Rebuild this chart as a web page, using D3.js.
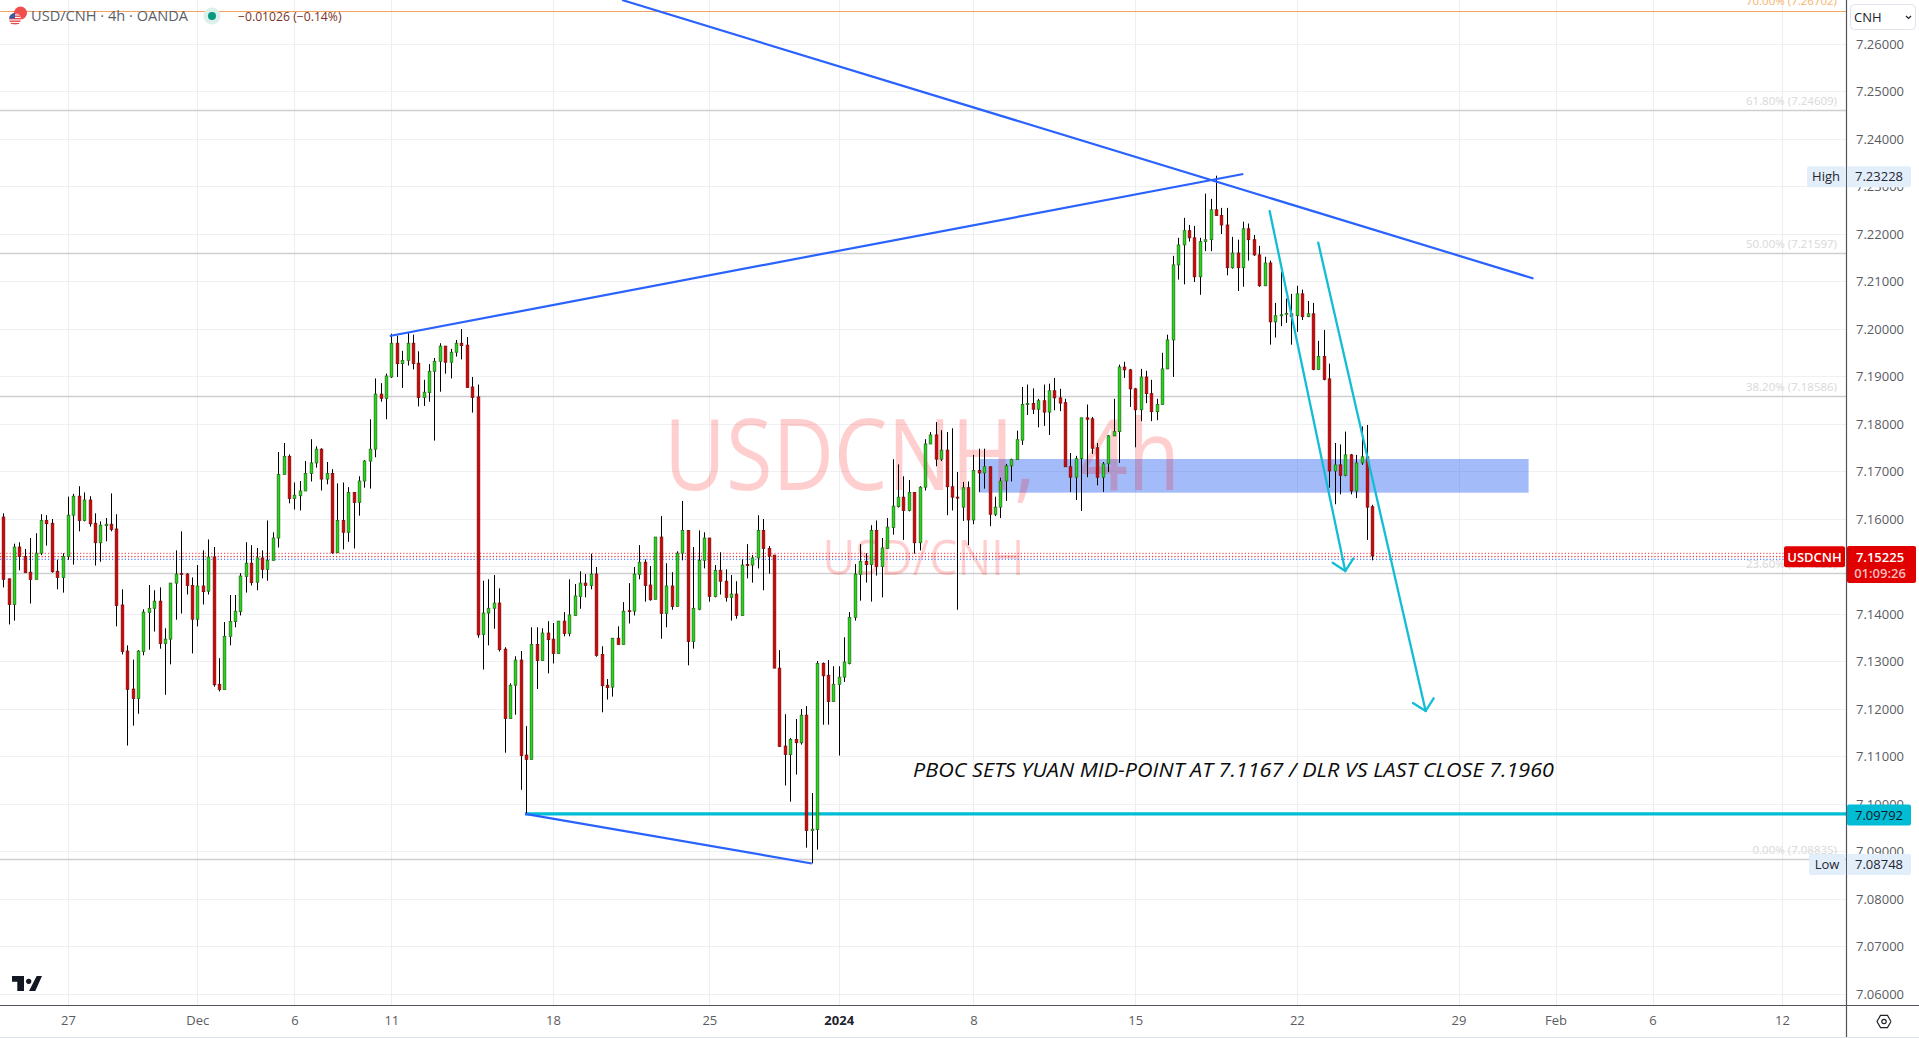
<!DOCTYPE html>
<html><head><meta charset="utf-8">
<script src="https://cdnjs.cloudflare.com/ajax/libs/d3/7.8.5/d3.min.js"></script>
<style>html,body{margin:0;padding:0;background:#fff;overflow:hidden}svg{display:block;font-family:"Open Sans",sans-serif}</style>
</head><body><svg id="c" width="1919" height="1038"></svg>
<script>
const opens=[7.1604,7.1474,7.1420,7.1541,7.1521,7.1488,7.1473,7.1528,7.1597,7.1591,
7.1490,7.1477,7.1521,7.1608,7.1648,7.1597,7.1640,7.1591,7.1550,7.1586,
7.1589,7.1579,7.1419,7.1322,7.1242,7.1222,7.1321,7.1403,7.1412,7.1427,
7.1338,7.1347,7.1465,7.1485,7.1484,7.1460,7.1389,7.1459,7.1448,7.1520,
7.1252,7.1241,7.1353,7.1384,7.1405,7.1479,7.1507,7.1467,7.1518,7.1494,
7.1513,7.1560,7.1694,7.1732,7.1643,7.1649,7.1659,7.1696,7.1718,7.1747,
7.1684,7.1696,7.1529,7.1597,7.1572,7.1656,7.1635,7.1680,7.1722,7.1747,
7.1863,7.1854,7.1899,7.1970,7.1927,7.1934,7.1970,7.1928,7.1856,7.1866,
7.1911,7.1932,7.1964,7.1930,7.1951,7.1970,7.1966,7.1878,7.1857,7.1357,
7.1402,7.1412,7.1423,7.1326,7.1180,7.1250,7.1303,7.1103,7.1094,7.1336,
7.1302,7.1360,7.1347,7.1317,7.1385,7.1359,7.1397,7.1437,7.1465,7.1460,
7.1484,7.1315,7.1250,7.1246,7.1349,7.1336,7.1407,7.1406,7.1483,7.1509,
7.1461,7.1431,7.1562,7.1401,7.1459,7.1416,7.1528,7.1576,7.1342,7.1410,
7.1513,7.1560,7.1437,7.1492,7.1469,7.1435,7.1442,7.1397,7.1504,7.1503,
7.1518,7.1576,7.1538,7.1524,7.1286,7.1122,7.1104,7.1136,7.1129,7.1187,
7.0944,7.0946,7.1296,7.1271,7.1216,7.1252,7.1267,7.1296,7.1393,7.1483,
7.1511,7.1504,7.1576,7.1500,7.1538,7.1582,7.1626,7.1646,7.1618,7.1656,
7.1550,7.1667,7.1758,7.1777,7.1726,7.1745,7.1668,7.1646,7.1625,7.1666,
7.1598,7.1702,7.1697,7.1710,7.1610,7.1625,7.1680,7.1712,7.1725,7.1766,
7.1841,7.1843,7.1831,7.1849,7.1825,7.1870,7.1855,7.1845,7.1710,7.1688,
7.1727,7.1813,7.1811,7.1750,7.1688,7.1716,7.1775,7.1784,7.1920,7.1914,
7.1874,7.1830,7.1899,7.1864,7.1826,7.1841,7.1916,7.1977,7.2135,7.2177,
7.2207,7.2192,7.2110,7.2184,7.2188,7.2251,7.2239,7.2219,7.2129,7.2160,
7.2129,7.2211,7.2188,7.2156,7.2091,7.2139,7.2015,7.2028,7.2031,7.2032,
7.2028,7.2074,7.2026,7.2032,7.1915,7.1942,7.1895,7.1701,7.1714,7.1692,
7.1735,7.1659,7.1718,7.1731,7.1626];
const highs=[7.1612,7.1475,7.1548,7.1551,7.1537,7.1560,7.1570,7.1610,7.1608,7.1600,
7.1514,7.1528,7.1647,7.1653,7.1669,7.1656,7.1648,7.1612,7.1595,7.1602,
7.1654,7.1610,7.1452,7.1334,7.1304,7.1324,7.1410,7.1461,7.1450,7.1456,
7.1370,7.1465,7.1534,7.1574,7.1486,7.1477,7.1503,7.1534,7.1557,7.1541,
7.1307,7.1383,7.1440,7.1440,7.1486,7.1551,7.1545,7.1539,7.1534,7.1597,
7.1572,7.1741,7.1760,7.1736,7.1677,7.1680,7.1722,7.1768,7.1753,7.1749,
7.1720,7.1705,7.1675,7.1677,7.1667,7.1656,7.1690,7.1724,7.1810,7.1896,
7.1886,7.1906,7.1990,7.1986,7.1954,7.1993,7.1988,7.1953,7.1893,7.1926,
7.1939,7.1970,7.1964,7.1958,7.1977,7.2000,7.1983,7.1899,7.1883,7.1470,
7.1473,7.1482,7.1454,7.1330,7.1254,7.1311,7.1322,7.1164,7.1372,7.1372,
7.1370,7.1385,7.1381,7.1385,7.1404,7.1473,7.1463,7.1490,7.1484,7.1527,
7.1499,7.1332,7.1263,7.1349,7.1374,7.1425,7.1465,7.1499,7.1545,7.1515,
7.1501,7.1562,7.1606,7.1507,7.1488,7.1532,7.1638,7.1576,7.1541,7.1576,
7.1572,7.1560,7.1503,7.1530,7.1494,7.1482,7.1469,7.1515,7.1547,7.1524,
7.1608,7.1600,7.1543,7.1524,7.1324,7.1189,7.1139,7.1179,7.1200,7.1206,
7.1023,7.1301,7.1298,7.1303,7.1290,7.1290,7.1351,7.1404,7.1505,7.1547,
7.1528,7.1587,7.1597,7.1560,7.1602,7.1726,7.1715,7.1690,7.1682,7.1656,
7.1669,7.1768,7.1783,7.1804,7.1787,7.1783,7.1791,7.1699,7.1678,7.1679,
7.1735,7.1748,7.1748,7.1710,7.1647,7.1687,7.1716,7.1727,7.1786,7.1878,
7.1883,7.1875,7.1853,7.1883,7.1885,7.1897,7.1874,7.1853,7.1739,7.1733,
7.1813,7.1841,7.1815,7.1760,7.1720,7.1777,7.1853,7.1925,7.1931,7.1916,
7.1876,7.1916,7.1912,7.1893,7.1853,7.1950,7.1988,7.2154,7.2192,7.2234,
7.2219,7.2217,7.2192,7.2285,7.2274,7.23228,7.2255,7.2255,7.2194,7.2188,
7.2226,7.2222,7.2198,7.2175,7.2152,7.2144,7.2055,7.2120,7.2064,7.2074,
7.2091,7.2083,7.2059,7.2055,7.1975,7.1998,7.1927,7.1760,7.1757,7.1784,
7.1737,7.1735,7.1795,7.1798,7.1630];
const lows=[7.1456,7.1378,7.1386,7.1492,7.1487,7.1422,7.1473,7.1524,7.1544,7.1487,
7.1452,7.1445,7.1514,7.1504,7.1574,7.1595,7.1584,7.1502,7.1510,7.1553,
7.1574,7.1374,7.1315,7.1123,7.1165,7.1190,7.1313,7.1325,7.1363,7.1327,
7.1230,7.1294,7.1388,7.1401,7.1441,7.1317,7.1374,7.1420,7.1441,7.1247,
7.1237,7.1241,7.1334,7.1372,7.1397,7.1445,7.1460,7.1450,7.1475,7.1470,
7.1513,7.1540,7.1694,7.1633,7.1620,7.1618,7.1659,7.1679,7.1708,7.1660,
7.1673,7.1527,7.1529,7.1536,7.1552,7.1538,7.1607,7.1666,7.1664,7.1730,
7.1847,7.1810,7.1897,7.1899,7.1876,7.1923,7.1915,7.1837,7.1838,7.1847,
7.1765,7.1868,7.1906,7.1896,7.1942,7.1936,7.1877,7.1824,7.1350,7.1283,
7.1334,7.1369,7.1321,7.1108,7.1180,7.1188,7.1030,7.0977,7.1094,7.1242,
7.1302,7.1275,7.1296,7.1317,7.1353,7.1353,7.1397,7.1411,7.1435,7.1452,
7.1310,7.1193,7.1220,7.1226,7.1336,7.1336,7.1380,7.1397,7.1473,7.1426,
7.1428,7.1431,7.1348,7.1372,7.1409,7.1416,7.1513,7.1292,7.1327,7.1408,
7.1496,7.1426,7.1435,7.1441,7.1426,7.1386,7.1390,7.1397,7.1475,7.1466,
7.1496,7.1450,7.1485,7.1286,7.1121,7.1039,7.1005,7.1062,7.1125,7.0908,
7.0875,7.0904,7.1167,7.1167,7.1216,7.1102,7.1257,7.1294,7.1386,7.1428,
7.1466,7.1426,7.1481,7.1435,7.1537,7.1567,7.1624,7.1556,7.1616,7.1527,
7.1534,7.1660,7.1758,7.1711,7.1722,7.1608,7.1618,7.1409,7.1596,7.1545,
7.1589,7.1657,7.1664,7.1585,7.1606,7.1602,7.1638,7.1679,7.1725,7.1756,
7.1819,7.1821,7.1793,7.1796,7.1777,7.1829,7.1827,7.1710,7.1657,7.1640,
7.1617,7.1688,7.1737,7.1671,7.1657,7.1699,7.1775,7.1718,7.1897,7.1836,
7.1751,7.1806,7.1844,7.1806,7.1808,7.1841,7.1916,7.1899,7.2104,7.2094,
7.2184,7.2099,7.2072,7.2164,7.2164,7.2238,7.2200,7.2113,7.2127,7.2080,
7.2089,7.2144,7.2154,7.2089,7.2091,7.1967,7.1982,7.2006,7.2013,7.1967,
7.1994,7.2019,7.2025,7.1913,7.1915,7.1892,7.1666,7.1631,7.1652,7.1690,
7.1652,7.1644,7.1714,7.1556,7.1513];
const closes=[7.1473,7.1420,7.1541,7.1521,7.1487,7.1473,7.1528,7.1597,7.1590,7.1489,
7.1477,7.1521,7.1608,7.1648,7.1597,7.1640,7.1590,7.1550,7.1587,7.1589,
7.1578,7.1418,7.1321,7.1241,7.1222,7.1322,7.1404,7.1412,7.1427,7.1338,
7.1347,7.1465,7.1484,7.1483,7.1460,7.1389,7.1459,7.1447,7.1520,7.1251,
7.1241,7.1353,7.1384,7.1406,7.1480,7.1507,7.1466,7.1518,7.1494,7.1513,
7.1560,7.1694,7.1732,7.1643,7.1650,7.1659,7.1696,7.1718,7.1747,7.1684,
7.1696,7.1529,7.1597,7.1572,7.1656,7.1635,7.1680,7.1722,7.1747,7.1863,
7.1854,7.1901,7.1970,7.1927,7.1934,7.1970,7.1927,7.1856,7.1867,7.1911,
7.1932,7.1964,7.1930,7.1951,7.1970,7.1965,7.1877,7.1856,7.1356,7.1402,
7.1412,7.1423,7.1325,7.1180,7.1250,7.1303,7.1102,7.1094,7.1336,7.1302,
7.1360,7.1346,7.1317,7.1385,7.1359,7.1398,7.1438,7.1465,7.1460,7.1484,
7.1313,7.1249,7.1245,7.1349,7.1336,7.1406,7.1405,7.1484,7.1509,7.1460,
7.1430,7.1562,7.1401,7.1459,7.1416,7.1528,7.1576,7.1342,7.1412,7.1513,
7.1560,7.1437,7.1492,7.1469,7.1435,7.1442,7.1397,7.1503,7.1502,7.1518,
7.1576,7.1538,7.1522,7.1286,7.1121,7.1104,7.1136,7.1129,7.1187,7.0944,
7.0947,7.1296,7.1270,7.1216,7.1252,7.1267,7.1299,7.1393,7.1484,7.1511,
7.1504,7.1576,7.1500,7.1539,7.1583,7.1627,7.1646,7.1618,7.1656,7.1550,
7.1667,7.1758,7.1777,7.1726,7.1745,7.1668,7.1646,7.1644,7.1666,7.1598,
7.1702,7.1697,7.1710,7.1610,7.1625,7.1680,7.1712,7.1725,7.1767,7.1841,
7.1843,7.1831,7.1849,7.1825,7.1870,7.1855,7.1844,7.1710,7.1688,7.1727,
7.1813,7.1810,7.1749,7.1688,7.1716,7.1775,7.1784,7.1920,7.1914,7.1874,
7.1830,7.1899,7.1864,7.1826,7.1841,7.1916,7.1977,7.2135,7.2177,7.2207,
7.2192,7.2110,7.2184,7.2188,7.2251,7.2239,7.2219,7.2129,7.2160,7.2129,
7.2211,7.2188,7.2156,7.2091,7.2139,7.2015,7.2028,7.2030,7.2033,7.2026,
7.2074,7.2026,7.2032,7.1915,7.1942,7.1894,7.1701,7.1714,7.1692,7.1735,
7.1659,7.1718,7.1731,7.1625,7.15225];

const priceTicks=[7.06,7.07,7.08,7.09,7.10,7.11,7.12,7.13,7.14,7.15,7.16,7.17,7.18,7.19,7.20,7.21,7.22,7.23,7.24,7.25,7.26];
const timeTickIndex=[12,36,54,72,102,131,155,180,210,240,270,288,306,330];
const timeTickLabels=["27","Dec","6","11","18","25","2024","8","15","22","29","Feb","6","12"];
const fibPrices=[7.26702,7.24609,7.21597,7.18586,7.14859,7.08835];
const fibLabels=["70.00% (7.26702)","61.80% (7.24609)","50.00% (7.21597)","38.20% (7.18586)","23.60% (7.14859)","0.00% (7.08835)"];
const blueLines=[[[71.7,7.19853],[230.06,7.23263]],[[114.8,7.26926],[283.9,7.21063]],[[96.8,7.09792],[150,7.08748]]];
const cyanArrows=[[[234.95,7.22484],[248.98,7.14905]],[[243.97,7.21817],[263.9,7.11958]]];
const supportPrice=7.09792, supportStart=96.8;
const zoneIndex=[181,283], zonePrices=[7.17263,7.16554];
const lastPrice=7.15225, highPrice=7.23228, lowPrice=7.08748;
const dottedLines=[[7.15278,"#f23645"],[7.15207,"#e00000"],[7.15152,"#2962ff"]];

const W=1919,H=1038,PR=1846,PB=1005;
const x=d3.scaleLinear().domain([0,254]).range([3.3,1372.3]);
const y=d3.scaleLinear().domain([7.06,7.26]).range([994,44]);
const fmt=d3.format(".5f");
const svg=d3.select("#c");
const defs=svg.append("defs");
defs.append("clipPath").attr("id","plot").append("rect").attr("width",PR).attr("height",PB);
defs.append("clipPath").attr("id","flag").append("circle").attr("cx",15).attr("cy",19).attr("r",6);
const plot=svg.append("g").attr("clip-path","url(#plot)");

// grid
plot.append("g").selectAll("line").data(priceTicks).join("line")
 .attr("x1",0).attr("x2",PR).attr("y1",d=>Math.round(y(d))+.5).attr("y2",d=>Math.round(y(d))+.5)
 .attr("stroke","#eff0f3").attr("stroke-width",1.2);
plot.append("g").selectAll("line").data(timeTickIndex).join("line")
 .attr("y1",0).attr("y2",PB).attr("x1",d=>Math.round(x(d))+.5).attr("x2",d=>Math.round(x(d))+.5)
 .attr("stroke","#eceef2").attr("stroke-width",1);

// fib levels
plot.append("g").selectAll("line").data(fibPrices).join("line")
 .attr("x1",0).attr("x2",PR).attr("y1",d=>Math.round(y(d))+.5).attr("y2",d=>Math.round(y(d))+.5)
 .attr("stroke",(d,i)=>i?"#cfcfcf":"#f2a35e").attr("stroke-width",(d,i)=>i?1.4:1);
plot.append("g").selectAll("text").data(fibLabels).join("text")
 .attr("x",1837).attr("y",(d,i)=>y(fibPrices[i])-5.5).attr("text-anchor","end").attr("font-size",11.5)
 .attr("fill",(d,i)=>i?"#d8d8d8":"#f7b26a").text(d=>d);

// zone
plot.append("rect").attr("x",x(zoneIndex[0])).attr("width",x(zoneIndex[1])-x(zoneIndex[0]))
 .attr("y",y(zonePrices[0])).attr("height",y(zonePrices[1])-y(zonePrices[0])).attr("fill","#2962f0").attr("fill-opacity",.43);

// watermark
const wm=plot.append("g").attr("fill","#ff0000").attr("fill-opacity",.19);
wm.append("text").attr("x",x(122.6)).attr("y",y(7.16620)).attr("font-size",98).attr("word-spacing",25).attr("textLength",516).attr("lengthAdjust","spacingAndGlyphs").text("USDCNH, 4h");
wm.append("text").attr("x",x(152)).attr("y",y(7.14821)).attr("font-size",49).attr("textLength",202).attr("lengthAdjust","spacingAndGlyphs").text("USD/CNH");

// support line
plot.append("line").attr("x1",x(supportStart)).attr("x2",PR).attr("y1",y(supportPrice)).attr("y2",y(supportPrice))
 .attr("stroke","#00bcd4").attr("stroke-width",3.4);

// dotted price lines
plot.append("g").selectAll("line").data(dottedLines).join("line")
 .attr("x1",0).attr("x2",1784).attr("y1",d=>y(d[0])).attr("y2",d=>y(d[0]))
 .attr("stroke",d=>d[1]).attr("stroke-width",1).attr("stroke-dasharray","1.2 2");

// candles
const idx=d3.range(opens.length);
const cg=plot.append("g");
const px=i=>Math.round(x(i));
cg.selectAll("line").data(idx).join("line")
 .attr("x1",i=>px(i)+.5).attr("x2",i=>px(i)+.5).attr("y1",i=>y(highs[i])).attr("y2",i=>y(lows[i]))
 .attr("stroke","#000").attr("stroke-width",1);
cg.selectAll("rect").data(idx).join("rect")
 .attr("x",i=>px(i)-.8).attr("width",2.6)
 .attr("y",i=>y(Math.max(opens[i],closes[i])))
 .attr("height",i=>Math.max(.8,Math.abs(y(opens[i])-y(closes[i]))))
 .attr("fill",i=>closes[i]>=opens[i]?"#18e010":"#d80000")
 .attr("stroke",i=>closes[i]>=opens[i]?"#2f6f1f":"#7d0f0f").attr("stroke-width",.8);

// blue lines
const ln=d3.line().x(d=>x(d[0])).y(d=>y(d[1]));
plot.append("g").selectAll("path").data(blueLines).join("path").attr("d",ln)
 .attr("fill","none").attr("stroke","#2962ff").attr("stroke-width",2.2);

// cyan arrows
const ag=plot.append("g").attr("fill","none").attr("stroke","#14bdd6").attr("stroke-width",2.3).attr("stroke-linecap","round").attr("stroke-linejoin","round");
cyanArrows.forEach(a=>{
 const x1=x(a[0][0]),y1=y(a[0][1]),x2=x(a[1][0]),y2=y(a[1][1]);
 const t=Math.atan2(y1-y2,x1-x2),L=15,A=Math.PI/4;
 ag.append("path").attr("d",ln(a));
 ag.append("path").attr("d",d3.line()([[x2+L*Math.cos(t-A),y2+L*Math.sin(t-A)],[x2,y2],[x2+L*Math.cos(t+A),y2+L*Math.sin(t+A)]]));
});

// annotation
plot.append("text").attr("x",913).attr("y",777).attr("font-size",19.5).attr("font-style","italic")
 .attr("textLength",641).attr("lengthAdjust","spacingAndGlyphs").attr("fill","#0c0c0c")
 .text("PBOC SETS YUAN MID-POINT AT 7.1167 / DLR VS LAST CLOSE 7.1960");

// axes
const yAxis=svg.append("g").attr("transform",`translate(${PR},0)`)
 .call(d3.axisRight(y).tickValues(priceTicks).tickFormat(fmt).tickSize(0).tickPadding(10));
yAxis.select(".domain").remove();
yAxis.selectAll("text").attr("font-family","'Open Sans',sans-serif").attr("font-size",13).attr("fill","#5a5c63");
const xAxis=svg.append("g").attr("transform",`translate(0,${PB})`)
 .call(d3.axisBottom(x).tickValues(timeTickIndex).tickFormat((d,i)=>timeTickLabels[i]).tickSize(0).tickPadding(11));
xAxis.select(".domain").remove();
xAxis.selectAll("text").attr("font-family","'Open Sans',sans-serif").attr("font-size",13)
 .attr("font-weight",(d,i)=>timeTickLabels[i]==="2024"?700:400).attr("fill",(d,i)=>timeTickLabels[i]==="2024"?"#20232c":"#5a5c63");
svg.append("line").attr("x1",0).attr("x2",W).attr("y1",PB+.5).attr("y2",PB+.5).attr("stroke","#50535e").attr("stroke-width",1.2);
svg.append("line").attr("x1",PR+.5).attr("x2",PR+.5).attr("y1",0).attr("y2",H).attr("stroke","#50535e").attr("stroke-width",1.2);
svg.append("line").attr("x1",0).attr("x2",W).attr("y1",H-.5).attr("y2",H-.5).attr("stroke","#e0e3eb");

// price tags
function tag(x0,w,cy,h,fill,txt,col,weight,r){
 svg.append("rect").attr("x",x0).attr("y",cy+1-h/2).attr("width",w).attr("height",h).attr("rx",r||2).attr("fill",fill);
 svg.append("text").attr("x",x0+w/2).attr("y",cy+1+4.8).attr("text-anchor","middle").attr("font-size",13).attr("font-weight",weight||400).attr("fill",col).text(txt);
}
tag(1807,38,y(highPrice),21,"#e3eefb","High","#23262f");
tag(1847,64,y(highPrice),21,"#e3eefb",fmt(highPrice),"#23262f");
tag(1809,36,y(lowPrice),21,"#e3eefb","Low","#23262f");
tag(1847,64,y(lowPrice),21,"#e3eefb",fmt(lowPrice),"#23262f");
tag(1847,64,y(supportPrice),21,"#00bcd4",fmt(supportPrice),"#0d1a22");
tag(1784,61,y(lastPrice),21,"#e00000","USDCNH","#fff",600);
svg.append("rect").attr("x",1847).attr("y",546).attr("width",69).attr("height",37).attr("rx",2).attr("fill","#e00000");
svg.append("text").attr("x",1880).attr("y",y(lastPrice)+6.2).attr("text-anchor","middle").attr("font-size",13).attr("font-weight",600).attr("fill","#fff").text(fmt(lastPrice));
svg.append("text").attr("x",1880).attr("y",y(lastPrice)+22).attr("text-anchor","middle").attr("font-size",13).attr("font-weight",600).attr("fill","#f9bdbd").text("01:09:26");

// currency button
svg.append("rect").attr("x",1850.5).attr("y",4.5).attr("width",65).attr("height",25).attr("rx",4).attr("fill","#fff").attr("stroke","#e0e3eb");
svg.append("text").attr("x",1854).attr("y",22).attr("font-size",13).attr("fill","#20232c").text("CNH");
svg.append("path").attr("d","M1906 16l2.5 2.5 2.5-2.5").attr("fill","none").attr("stroke","#20232c").attr("stroke-width",1.2);

// legend
const lg=svg.append("g");
lg.append("circle").attr("cx",20.5).attr("cy",13).attr("r",6.5).attr("fill","#f04d4d");
const fl=lg.append("g").attr("clip-path","url(#flag)");
fl.append("rect").attr("x",9).attr("y",13).attr("width",12).attr("height",12).attr("fill","#fff");
[13,15.5,18,20.5,23].forEach(v=>fl.append("rect").attr("x",9).attr("y",v).attr("width",12).attr("height",1.4).attr("fill","#e8474c"));
fl.append("rect").attr("x",9).attr("y",13).attr("width",6).attr("height",5.5).attr("fill","#3c5aa6");
lg.append("text").attr("x",31).attr("y",21).attr("font-size",14.6).attr("fill","#5c5f6a").text("USD/CNH · 4h · OANDA");
lg.append("circle").attr("cx",212).attr("cy",16).attr("r",8.5).attr("fill","#dcf0ec");
lg.append("circle").attr("cx",212).attr("cy",16).attr("r",4).attr("fill","#089981");
lg.append("text").attr("x",238).attr("y",21).attr("font-size",12.2).attr("fill","#7a3226").text("−0.01026 (−0.14%)");

// logo
svg.append("path").attr("fill","#131722").attr("d","M12 976H24V991H17.3V981.7H12ZM36.7 976H42L35.3 991H29ZM28.7 978.7a2.7 2.7 0 1 0 .01 0Z");
// settings icon
const cx0=1884,cy0=1021.5;
svg.append("path").attr("fill","none").attr("stroke","#20232c").attr("stroke-width",1.2)
 .attr("d",d3.line()(d3.range(7).map(k=>[cx0+7*Math.cos(k*Math.PI/3),cy0+7*Math.sin(k*Math.PI/3)])));
svg.append("circle").attr("cx",cx0).attr("cy",cy0).attr("r",2.2).attr("fill","none").attr("stroke","#20232c").attr("stroke-width",1.2);
</script></body></html>
